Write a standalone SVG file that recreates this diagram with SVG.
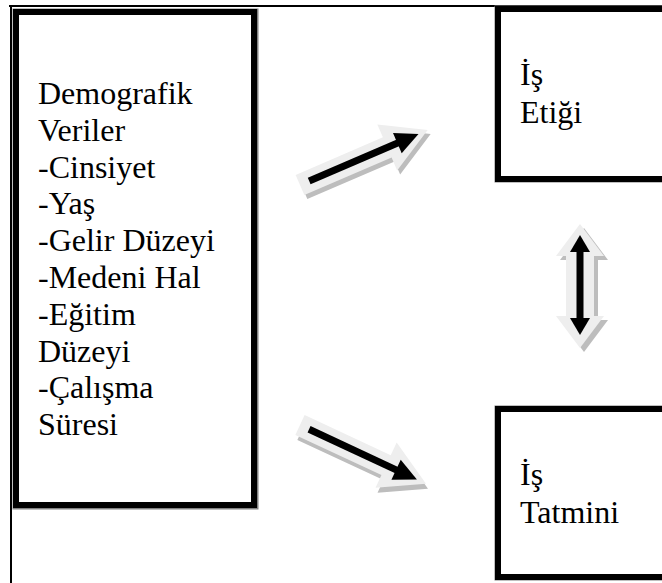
<svg xmlns="http://www.w3.org/2000/svg" width="662" height="583" viewBox="0 0 662 583">
  <style>
    .t { font-family: "Liberation Serif", "Times New Roman", serif; font-size: 32px; fill: #000; }
    .edge { fill: none; stroke: #808080; stroke-width: 7; }
    .box { fill: #fff; stroke: #000; stroke-width: 6; }
    .blk { fill: #eeeeee; }
    .shd { fill: #bdbdbd; }
    .ln { stroke: #000; stroke-width: 7; fill: none; }
    .hd { fill: #000; }
  </style>
  <defs>
    <polygon id="blockArrow" points="0,-11 95,-11 95,-25 139,0 95,25 95,11 0,11"/>
    <g id="lineArrow">
      <line class="ln" x1="10" y1="0" x2="112" y2="0"/>
      <polygon class="hd" points="106,-11 129,0 106,11"/>
    </g>
  </defs>
  <rect x="0" y="0" width="662" height="583" fill="#fff"/>
  <!-- outer frame -->
  <g id="frame">
    <line x1="9" y1="6" x2="662" y2="6" stroke="#000" stroke-width="2"/>
    <line x1="11" y1="5" x2="11" y2="583" stroke="#000" stroke-width="2"/>
  </g>

  <g id="demografik">
    <rect class="edge" x="16" y="12" width="239" height="494"/>
    <rect class="box" x="16" y="12" width="238" height="493"/>
    <text class="t" x="38" y="104">Demografik</text>
    <text class="t" x="38" y="140.8">Veriler</text>
    <text class="t" x="38" y="177.6">-Cinsiyet</text>
    <text class="t" x="38" y="214.4">-Yaş</text>
    <text class="t" x="38" y="251.2">-Gelir Düzeyi</text>
    <text class="t" x="38" y="288">-Medeni Hal</text>
    <text class="t" x="38" y="324.8">-Eğitim</text>
    <text class="t" x="38" y="361.6">Düzeyi</text>
    <text class="t" x="38" y="398.4">-Çalışma</text>
    <text class="t" x="38" y="435.2">Süresi</text>
  </g>

  <g id="is-etigi">
    <rect class="edge" x="498" y="9" width="200" height="170"/>
    <rect class="box" x="498" y="9" width="200" height="170"/>
    <text class="t" x="520" y="85">İş</text>
    <text class="t" x="520" y="123">Etiği</text>
  </g>

  <g id="is-tatmini">
    <rect class="edge" x="498" y="409" width="200" height="168"/>
    <rect class="box" x="498" y="409" width="200" height="168"/>
    <text class="t" x="520" y="485">İş</text>
    <text class="t" x="520" y="523">Tatmini</text>
  </g>

  <g id="connectors">
    <g id="arrow-etigi">
      <use href="#blockArrow" class="shd" transform="translate(303,189) rotate(-23.3)"/>
      <use href="#blockArrow" class="blk" transform="translate(300,185) rotate(-23.3)"/>
      <use href="#lineArrow" transform="translate(300,185) rotate(-23.3)"/>
    </g>
    <g id="arrow-tatmini">
      <use href="#blockArrow" class="shd" transform="translate(302,430) rotate(25)"/>
      <use href="#blockArrow" class="blk" transform="translate(300,425) rotate(25)"/>
      <use href="#lineArrow" transform="translate(300,425) rotate(25)"/>
    </g>
    <g id="arrow-double">
      <polygon class="shd" points="584,228 608,260 598,260 598,320 608,320 584,352 560,320 570,320 570,260 560,260"/>
      <polygon class="blk" points="580,224 604,256 594,256 594,316 604,316 580,348 556,316 566,316 566,256 556,256"/>
      <line class="ln" x1="580" y1="248" x2="580" y2="322" stroke-width="9"/>
      <polygon class="hd" points="570,252 580,235 590,252"/>
      <polygon class="hd" points="570,318 580,335 590,318"/>
    </g>
  </g>
</svg>
